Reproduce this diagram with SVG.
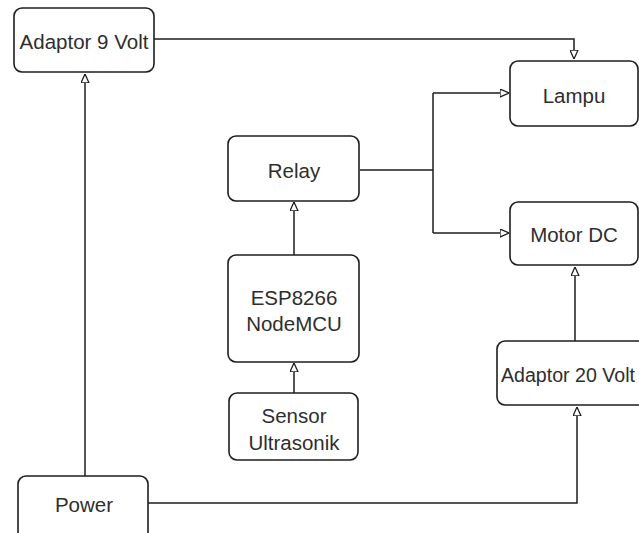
<svg xmlns="http://www.w3.org/2000/svg" width="639" height="533" viewBox="0 0 639 533">
<style>
.box{fill:#ffffff;stroke:#1e1e1e;stroke-width:1.6}
.lbl{font-family:"Liberation Sans",Arial,sans-serif;font-size:20.5px;fill:#2e2e2e;text-anchor:middle;dominant-baseline:central}
.edge{fill:none;stroke:#1e1e1e;stroke-width:1.5}
</style>
<defs>
<marker id="arr" viewBox="0 0 10 10" refX="10" refY="5" markerWidth="9" markerHeight="9" markerUnits="userSpaceOnUse" orient="auto">
<path d="M0,0.5 L10,5 L0,9.5 Z" fill="#ffffff" stroke="#1e1e1e" stroke-width="1.4"/>
</marker>
</defs>
<rect width="639" height="533" fill="#ffffff"/>
<g id="connectors">
<path class="edge" d="M154,39 L574,39 L574,59" marker-end="url(#arr)"/>
<path class="edge" d="M85,476 L85,74" marker-end="url(#arr)"/>
<path class="edge" d="M360,170 L433,170 M433,93 L433,233 M433,93 L509,93" marker-end="url(#arr)"/>
<path class="edge" d="M433,233 L509,233" marker-end="url(#arr)"/>
<path class="edge" d="M294,255 L294,202" marker-end="url(#arr)"/>
<path class="edge" d="M294,393 L294,363" marker-end="url(#arr)"/>
<path class="edge" d="M575,341 L575,267" marker-end="url(#arr)"/>
<path class="edge" d="M148,503 L577,503 L577,407" marker-end="url(#arr)"/>
</g>
<g id="adaptor9">
<rect class="box" x="14" y="8" width="140" height="64" rx="8"/>
<text class="lbl" x="84" y="41">Adaptor 9 Volt</text>
</g>
<g id="lampu">
<rect class="box" x="510" y="61" width="128" height="65" rx="8"/>
<text class="lbl" x="574" y="95">Lampu</text>
</g>
<g id="relay">
<rect class="box" x="228" y="136" width="131" height="65" rx="8"/>
<text class="lbl" x="294" y="170">Relay</text>
</g>
<g id="motordc">
<rect class="box" x="510" y="202" width="128" height="63" rx="8"/>
<text class="lbl" x="574" y="234">Motor DC</text>
</g>
<g id="esp">
<rect class="box" x="228" y="255" width="131" height="107" rx="8"/>
<text class="lbl" x="294" y="297">ESP8266</text>
<text class="lbl" x="294" y="323">NodeMCU</text>
</g>
<g id="sensor">
<rect class="box" x="229" y="393" width="129" height="67" rx="8"/>
<text class="lbl" x="294" y="415">Sensor</text>
<text class="lbl" x="294" y="442">Ultrasonik</text>
</g>
<g id="adaptor20">
<rect class="box" x="497" y="341" width="160" height="64" rx="8"/>
<text class="lbl" x="501" y="375" style="text-anchor:start;font-size:19.5px" textLength="134" lengthAdjust="spacingAndGlyphs">Adaptor 20 Volt</text>
</g>
<g id="power">
<rect class="box" x="18" y="476" width="130" height="70" rx="8"/>
<text class="lbl" x="84" y="504">Power</text>
</g>
</svg>
